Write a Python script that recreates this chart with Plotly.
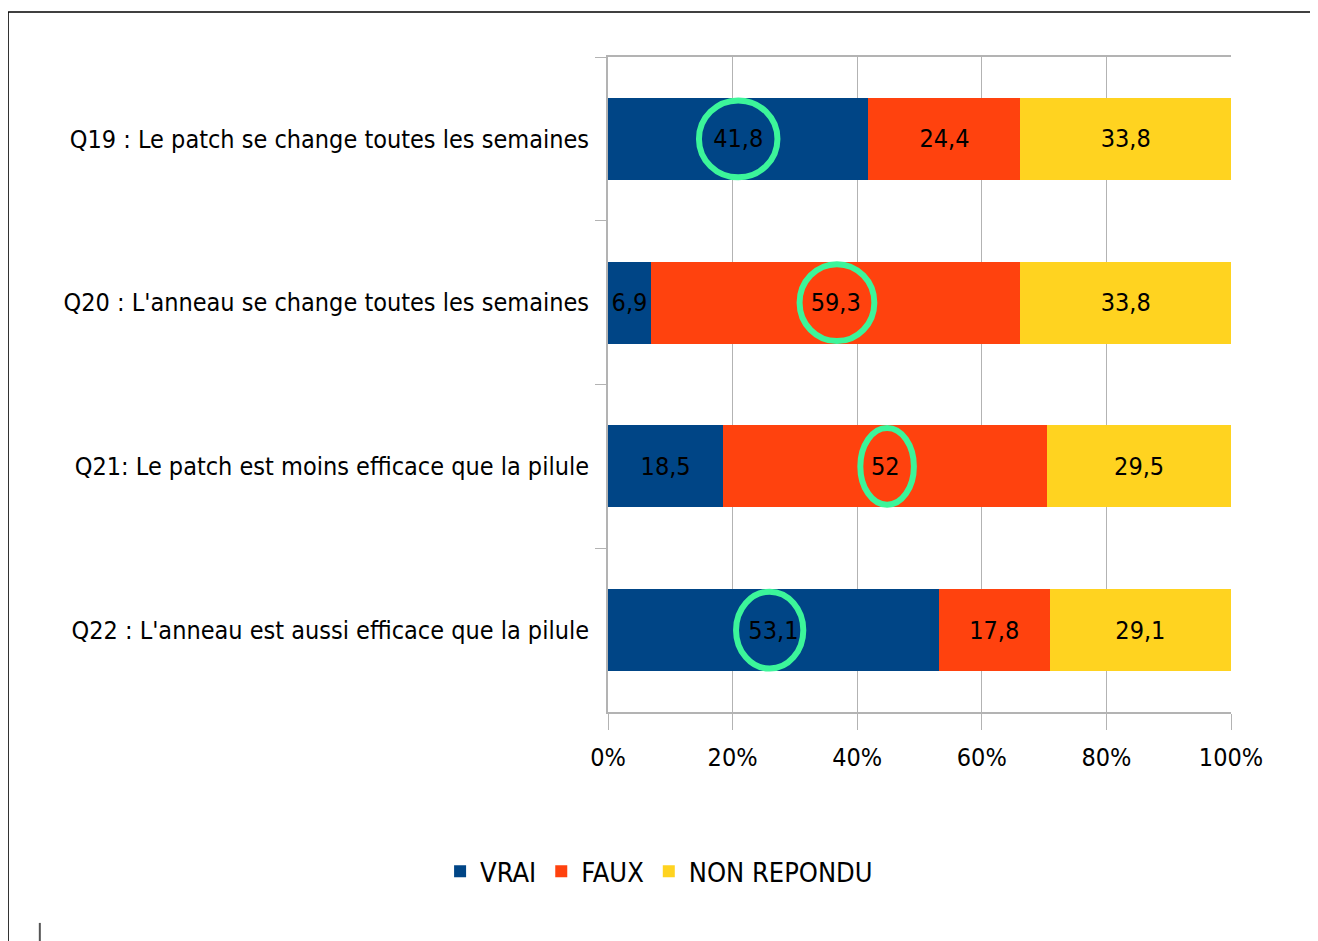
import plotly.graph_objects as go

categories = [
    "Q19 : Le patch se change toutes les semaines",
    "Q20 : L'anneau se change toutes les semaines",
    "Q21: Le patch est moins efficace que la pilule",
    "Q22 : L'anneau est aussi efficace que la pilule",
]
vrai = [41.8, 6.9, 18.5, 53.1]
faux = [24.4, 59.3, 52.0, 17.8]
non_repondu = [33.8, 33.8, 29.5, 29.1]
series_names = ["VRAI", "FAUX", "NON REPONDU"]
colors = ["#004586", "#ff420e", "#ffd320"]

# highlighted values (series index per category) and circle half-widths (x units)
highlight_series = [0, 1, 1, 0]
circle_halfwidth = [6.3, 6.0, 4.3, 5.4]
circle_offset = [0.0, 0.2, 0.3, -0.6]

FONT = "DejaVu Sans Condensed, Liberation Sans Narrow, sans-serif"


def fmt(v):
    s = ("%.1f" % v).rstrip("0").rstrip(".")
    return s.replace(".", ",")


fig = go.Figure()
all_series = [vrai, faux, non_repondu]
for name, vals, col in zip(series_names, all_series, colors):
    fig.add_trace(go.Bar(
        y=categories, x=vals, name=name, orientation="h",
        marker=dict(color=col, line=dict(width=0)),
        text=[fmt(v) for v in vals], textposition="inside",
        insidetextanchor="middle", constraintext="none", textangle=0,
        textfont=dict(color="black", size=25, family=FONT),
        hoverinfo="skip",
    ))

# green circles around highlighted values (data coords)
for i, s in enumerate(highlight_series):
    start = sum(all_series[k][i] for k in range(s))
    cx = start + all_series[s][i] / 2 + circle_offset[i]
    w = circle_halfwidth[i]
    fig.add_shape(type="circle", xref="x", yref="y",
                  x0=cx - w, x1=cx + w, y0=i - 0.235, y1=i + 0.235,
                  line=dict(color="#3cf59a", width=6), layer="above")

# outer frame (paper coords)
for x0, y0, x1, y1, c, wdt in [
    (-0.963, 1.0687, 1.15, 1.0687, "black", 1.5),
    (-0.963, 1.0687, -0.963, -0.36, "black", 1.5),
    (-0.912, -0.322, -0.912, -0.36, "#555555", 2),
]:
    fig.add_shape(type="line", xref="paper", yref="paper",
                  x0=x0, y0=y0, x1=x1, y1=y1, line=dict(color=c, width=wdt))

fig.update_layout(
    barmode="stack", bargap=0.5,
    width=1310, height=933,
    margin=dict(l=600, r=87, t=49, b=229),
    plot_bgcolor="white", paper_bgcolor="white",
    font=dict(family=FONT, size=25, color="black"),
    legend=dict(orientation="h", x=0.082, xanchor="center", y=-0.244,
                yanchor="middle", font=dict(size=27, family=FONT),
                itemwidth=30, traceorder="normal"),
    showlegend=True,
)
fig.update_xaxes(
    range=[0, 100], tickvals=[0, 20, 40, 60, 80, 100],
    ticktext=["0%", "20%", "40%", "60%", "80%", "100%"],
    showgrid=True, gridcolor="#b3b3b3", gridwidth=1,
    showline=True, linecolor="#b3b3b3", linewidth=2, mirror=True,
    ticks="outside", ticklen=16, tickcolor="#b3b3b3", tickwidth=1,
    ticklabelstandoff=6,
    tickfont=dict(size=25, family=FONT), zeroline=False, automargin=False,
)
fig.update_yaxes(
    categoryorder="array", categoryarray=categories, autorange="reversed",
    showline=True, linecolor="#b3b3b3", linewidth=2,
    ticks="outside", tickson="boundaries", ticklen=11, tickcolor="#b3b3b3",
    ticklabelstandoff=12, automargin=False,
    tickfont=dict(size=25, family=FONT), showgrid=False,
)

fig.write_html("out.html")
